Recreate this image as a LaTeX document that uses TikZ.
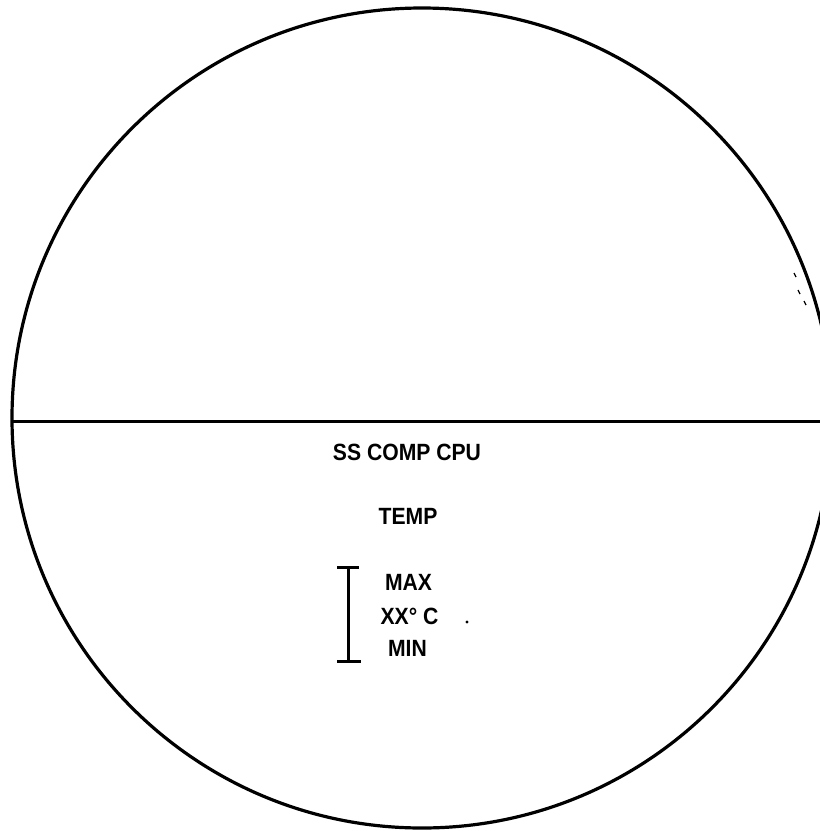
\documentclass[tikz,border=0pt]{standalone}
\usepackage{fontspec}
\setmainfont{Liberation Sans}
\begin{document}
\begin{tikzpicture}[x=1pt,y=-1pt,
  outline/.style={line width=3.2pt},
  lbl/.style={font=\bfseries\fontsize{23.5}{26}\selectfont, xscale=0.9, inner sep=0pt, anchor=center},
  brk/.style={line width=3pt}]
\useasboundingbox (0,0) rectangle (820,831);
\begin{scope}
\clip (0,0) rectangle (820,831);
\draw[outline] (422,418) circle (410);
\coordinate (hl) at (12,421);
\coordinate (hr) at (822,421);
\draw[line width=3pt] (hl) -- (hr);
\end{scope}
\node[lbl] (title) at (407,452) {SS COMP CPU};
\node[lbl] (temp) at (408,516.5) {TEMP};
\node[lbl] (max) at (408.5,582.5) {MAX};
\node[lbl] (val) at (409.5,616) {XX\textdegree\ C};
\node[lbl] (min) at (407.5,648.5) {MIN};
\coordinate (bt) at (348,567);
\coordinate (bb) at (348,661);
\draw[brk] (bt) -- (bb);
\draw[brk] (337,567) -- (359,567);
\draw[brk] (337,661) -- (361,661);
\fill (467,622) circle (1.6);
\draw[line width=1.2pt] (794,273) -- (796,277);
\draw[line width=1.2pt] (798,290) -- (800,294);
\draw[line width=1.2pt] (804,301) -- (806,305);
\end{tikzpicture}
\end{document}
